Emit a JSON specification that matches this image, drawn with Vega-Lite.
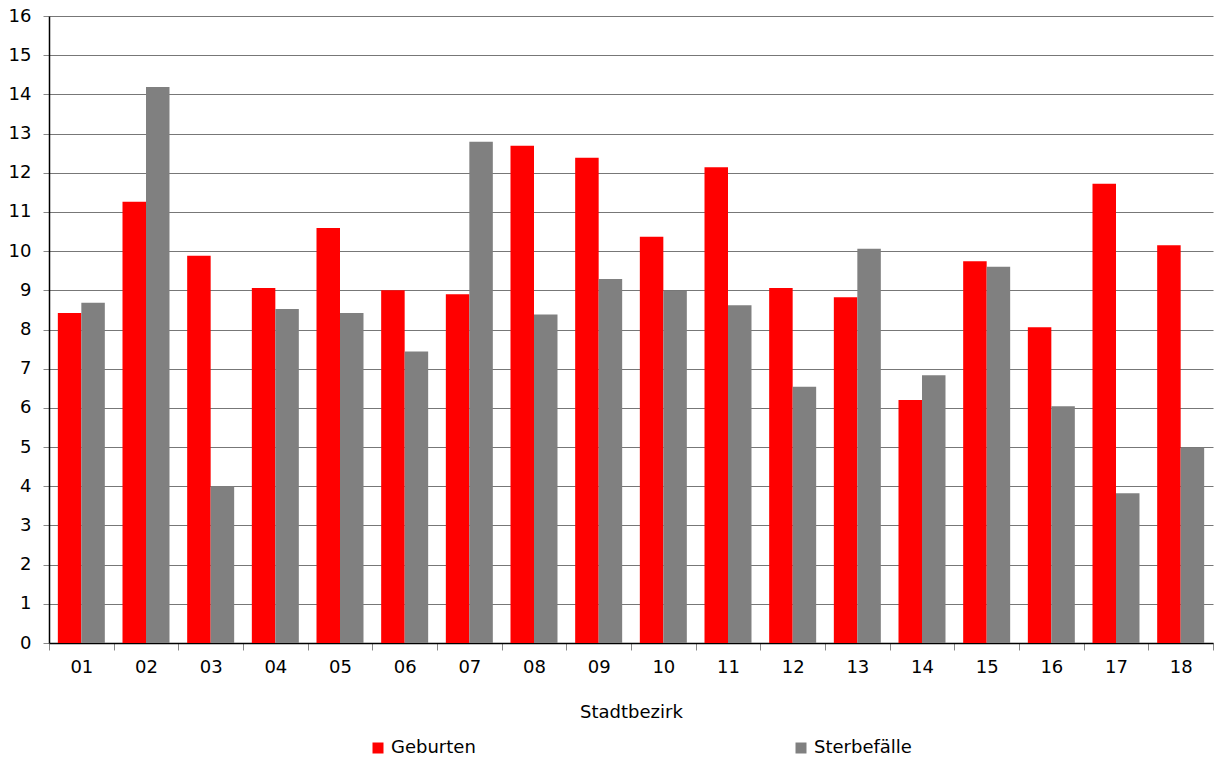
{
  "$schema": "https://vega.github.io/schema/vega-lite/v6.json",
  "autosize": "none",
  "width": 1164,
  "height": 627,
  "padding": {"left": 49, "top": 16, "right": 3, "bottom": 115},
  "background": "white",
  "config": {
    "font": "DejaVu Sans",
    "view": {"stroke": null}
  },
  "data": {
    "values": [
      {"bezirk": "01", "serie": "Geburten", "wert": 8.42},
      {"bezirk": "01", "serie": "Sterbefälle", "wert": 8.68},
      {"bezirk": "02", "serie": "Geburten", "wert": 11.26},
      {"bezirk": "02", "serie": "Sterbefälle", "wert": 14.19},
      {"bezirk": "03", "serie": "Geburten", "wert": 9.88},
      {"bezirk": "03", "serie": "Sterbefälle", "wert": 4.0},
      {"bezirk": "04", "serie": "Geburten", "wert": 9.06},
      {"bezirk": "04", "serie": "Sterbefälle", "wert": 8.52},
      {"bezirk": "05", "serie": "Geburten", "wert": 10.59},
      {"bezirk": "05", "serie": "Sterbefälle", "wert": 8.42},
      {"bezirk": "06", "serie": "Geburten", "wert": 9.0},
      {"bezirk": "06", "serie": "Sterbefälle", "wert": 7.44},
      {"bezirk": "07", "serie": "Geburten", "wert": 8.9},
      {"bezirk": "07", "serie": "Sterbefälle", "wert": 12.79},
      {"bezirk": "08", "serie": "Geburten", "wert": 12.69},
      {"bezirk": "08", "serie": "Sterbefälle", "wert": 8.38},
      {"bezirk": "09", "serie": "Geburten", "wert": 12.38},
      {"bezirk": "09", "serie": "Sterbefälle", "wert": 9.29},
      {"bezirk": "10", "serie": "Geburten", "wert": 10.37},
      {"bezirk": "10", "serie": "Sterbefälle", "wert": 8.98},
      {"bezirk": "11", "serie": "Geburten", "wert": 12.14},
      {"bezirk": "11", "serie": "Sterbefälle", "wert": 8.62},
      {"bezirk": "12", "serie": "Geburten", "wert": 9.06},
      {"bezirk": "12", "serie": "Sterbefälle", "wert": 6.54},
      {"bezirk": "13", "serie": "Geburten", "wert": 8.82},
      {"bezirk": "13", "serie": "Sterbefälle", "wert": 10.06},
      {"bezirk": "14", "serie": "Geburten", "wert": 6.2},
      {"bezirk": "14", "serie": "Sterbefälle", "wert": 6.83},
      {"bezirk": "15", "serie": "Geburten", "wert": 9.74},
      {"bezirk": "15", "serie": "Sterbefälle", "wert": 9.6},
      {"bezirk": "16", "serie": "Geburten", "wert": 8.06},
      {"bezirk": "16", "serie": "Sterbefälle", "wert": 6.04},
      {"bezirk": "17", "serie": "Geburten", "wert": 11.72},
      {"bezirk": "17", "serie": "Sterbefälle", "wert": 3.82},
      {"bezirk": "18", "serie": "Geburten", "wert": 10.15},
      {"bezirk": "18", "serie": "Sterbefälle", "wert": 4.98}
    ]
  },
  "mark": {"type": "bar"},
  "encoding": {
    "x": {
      "field": "bezirk",
      "type": "nominal",
      "scale": {"paddingInner": 0, "paddingOuter": 0},
      "axis": {
        "title": "Stadtbezirk",
        "titleFont": "DejaVu Sans",
        "titleFontSize": 18,
        "titleFontWeight": "normal",
        "titleColor": "black",
        "titlePadding": 27,
        "labelAngle": 0,
        "labelFontSize": 18,
        "labelColor": "black",
        "labelPadding": 8,
        "tickBand": "extent",
        "tickColor": "#888888",
        "tickSize": 7,
        "domainColor": "black",
        "domainWidth": 1.5,
        "grid": false
      }
    },
    "xOffset": {
      "field": "serie",
      "type": "nominal",
      "scale": {"paddingInner": 0, "paddingOuter": 0.376}
    },
    "y": {
      "field": "wert",
      "type": "quantitative",
      "scale": {"domain": [0, 16], "nice": false},
      "axis": {
        "title": null,
        "values": [0,1,2,3,4,5,6,7,8,9,10,11,12,13,14,15,16],
        "labelFontSize": 18,
        "labelColor": "black",
        "labelPadding": 12,
        "tickColor": "#888888",
        "tickSize": 6,
        "domainColor": "black",
        "domainWidth": 1.5,
        "gridColor": "#777777",
        "gridOpacity": 1,
        "gridWidth": 1
      }
    },
    "color": {
      "field": "serie",
      "type": "nominal",
      "scale": {"domain": ["Geburten", "Sterbefälle"], "range": ["#ff0000", "#808080"]},
      "legend": {
        "title": null,
        "orient": "none",
        "direction": "horizontal",
        "legendX": 320,
        "legendY": 723,
        "symbolType": "square",
        "symbolSize": 121,
        "symbolStrokeWidth": 0,
        "symbolOpacity": 1,
        "labelFont": "DejaVu Sans",
        "labelFontSize": 18,
        "labelColor": "black",
        "labelOffset": 4,
        "columnPadding": 316
      }
    }
  }
}
